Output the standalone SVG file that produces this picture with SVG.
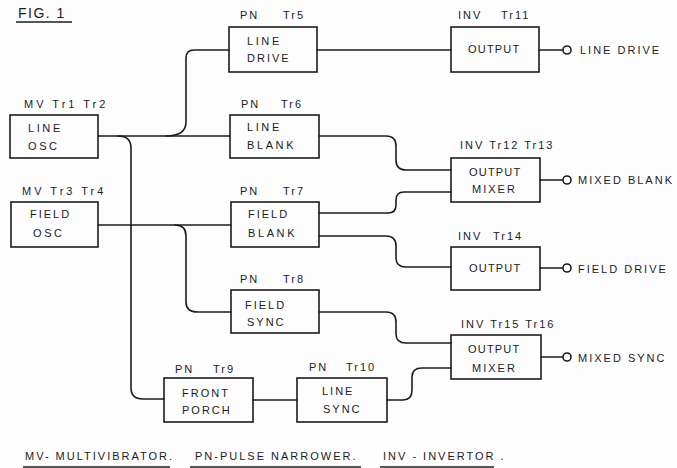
<svg xmlns="http://www.w3.org/2000/svg" width="677" height="468" viewBox="0 0 677 468">
<style>
  .bg { fill: #fdfdfd; }
  .box { fill: none; stroke: #1c1c1c; stroke-width: 1.6; }
  .wire { fill: none; stroke: #1c1c1c; stroke-width: 1.6; stroke-linejoin: round; stroke-linecap: round; }
  .term { fill: #fdfdfd; stroke: #1c1c1c; stroke-width: 1.6; }
  text { font-family: "Liberation Sans", Arial, sans-serif; font-size: 11px; fill: #1c1c1c; letter-spacing: 2px; }
  .title { font-size: 14px; letter-spacing: 1.5px; }
  .mv { letter-spacing: 3px; }
  .op { letter-spacing: 1.2px; }
  .wide { letter-spacing: 2.6px; }
  .ul { stroke: #1c1c1c; stroke-width: 1.6; }
</style>
<rect class="bg" x="0" y="0" width="677" height="468"/>

<g id="title">
  <text class="title" x="18" y="18">FIG. 1</text>
  <line class="ul" x1="16" y1="22" x2="72" y2="22"/>
</g>

<g id="connectors">
  <path class="wire" d="M98,136 H230"/>
  <path class="wire" d="M166,136 Q186,136 186,122 V58 Q186,50 194,50 H229"/>
  <path class="wire" d="M118,136 Q131,136 131,148 V388 Q131,399 143,399 H164"/>
  <path class="wire" d="M98,225 H231"/>
  <path class="wire" d="M175,225 Q186,225 186,236 V302 Q186,312 197,312 H231"/>
  <path class="wire" d="M317,50 H451"/>
  <path class="wire" d="M319,136 H386 Q396,136 396,146 V160 Q396,170 406,170 H451"/>
  <path class="wire" d="M319,213 H388 Q396,213 396,205 V200 Q396,192 404,192 H451"/>
  <path class="wire" d="M319,236 H386 Q396,236 396,246 V258 Q396,267 406,267 H451"/>
  <path class="wire" d="M319,312 H386 Q396,312 396,322 V334 Q396,343 406,343 H451"/>
  <path class="wire" d="M253,400 H297"/>
  <path class="wire" d="M387,400 H403 Q412,400 412,390 V377 Q412,368 422,368 H451"/>
  <path class="wire" d="M539,50 H563"/>
  <path class="wire" d="M540,180 H563"/>
  <path class="wire" d="M540,268 H563"/>
  <path class="wire" d="M541,357 H563"/>
</g>

<g id="line-osc">
  <text class="mv" x="24" y="108">MV Tr1 Tr2</text>
  <rect class="box" x="10" y="115" width="88" height="43"/>
  <text class="wide" x="28" y="132">LINE</text>
  <text class="wide" x="28" y="150">OSC</text>
</g>
<g id="field-osc">
  <text class="mv" x="22" y="195">MV Tr3 Tr4</text>
  <rect class="box" x="11" y="202" width="87" height="45"/>
  <text x="30" y="218">FIELD</text>
  <text class="wide" x="33" y="237">OSC</text>
</g>
<g id="line-drive">
  <text x="240" y="19">PN</text><text x="283" y="19">Tr5</text>
  <rect class="box" x="229" y="27" width="88" height="45"/>
  <text class="wide" x="247" y="45">LINE</text>
  <text x="247" y="62">DRIVE</text>
</g>
<g id="line-blank">
  <text x="241" y="108">PN</text><text x="281" y="108">Tr6</text>
  <rect class="box" x="230" y="115" width="89" height="43"/>
  <text class="wide" x="247" y="131">LINE</text>
  <text class="wide" x="247" y="149">BLANK</text>
</g>
<g id="field-blank">
  <text x="240" y="195">PN</text><text x="283" y="195">Tr7</text>
  <rect class="box" x="231" y="202" width="88" height="45"/>
  <text x="248" y="218">FIELD</text>
  <text class="wide" x="248" y="237">BLANK</text>
</g>
<g id="field-sync">
  <text x="240" y="283">PN</text><text x="283" y="283">Tr8</text>
  <rect class="box" x="231" y="290" width="88" height="43"/>
  <text x="245" y="309">FIELD</text>
  <text x="247" y="326">SYNC</text>
</g>
<g id="front-porch">
  <text x="175" y="373">PN</text><text x="213" y="373">Tr9</text>
  <rect class="box" x="164" y="378" width="89" height="44"/>
  <text x="182" y="397">FRONT</text>
  <text x="182" y="414">PORCH</text>
</g>
<g id="line-sync">
  <text x="309" y="371">PN</text><text x="346" y="371">Tr10</text>
  <rect class="box" x="297" y="378" width="90" height="44"/>
  <text x="322" y="395">LINE</text>
  <text x="323" y="413">SYNC</text>
</g>
<g id="output-tr11">
  <text x="458" y="19">INV</text><text x="501" y="19">Tr11</text>
  <rect class="box" x="451" y="27" width="88" height="45"/>
  <text class="op" x="468" y="53">OUTPUT</text>
</g>
<g id="output-mixer-blank">
  <text x="460" y="149">INV Tr12 Tr13</text>
  <rect class="box" x="451" y="158" width="89" height="44"/>
  <text class="op" x="469" y="176">OUTPUT</text>
  <text x="472" y="193">MIXER</text>
</g>
<g id="output-tr14">
  <text x="458" y="240">INV</text><text x="493" y="240">Tr14</text>
  <rect class="box" x="451" y="247" width="89" height="43"/>
  <text class="op" x="469" y="272">OUTPUT</text>
</g>
<g id="output-mixer-sync">
  <text x="461" y="328">INV Tr15 Tr16</text>
  <rect class="box" x="451" y="335" width="90" height="44"/>
  <text class="op" x="468" y="353">OUTPUT</text>
  <text x="472" y="372">MIXER</text>
</g>

<g id="out-line-drive">
  <circle class="term" cx="567" cy="50" r="4"/>
  <text x="580" y="54">LINE DRIVE</text>
</g>
<g id="out-mixed-blank">
  <circle class="term" cx="567" cy="180" r="4"/>
  <text x="578" y="184">MIXED BLANK</text>
</g>
<g id="out-field-drive">
  <circle class="term" cx="567" cy="268" r="4"/>
  <text x="578" y="273">FIELD DRIVE</text>
</g>
<g id="out-mixed-sync">
  <circle class="term" cx="567" cy="357" r="4"/>
  <text x="578" y="362">MIXED SYNC</text>
</g>

<g id="legend">
  <text x="25" y="460">MV- MULTIVIBRATOR.</text>
  <line class="ul" x1="23" y1="467" x2="170" y2="467"/>
  <text x="195" y="460">PN-PULSE NARROWER.</text>
  <line class="ul" x1="190" y1="467" x2="361" y2="467"/>
  <text x="383" y="460">INV - INVERTOR .</text>
  <line class="ul" x1="380" y1="467" x2="494" y2="467"/>
</g>
</svg>
